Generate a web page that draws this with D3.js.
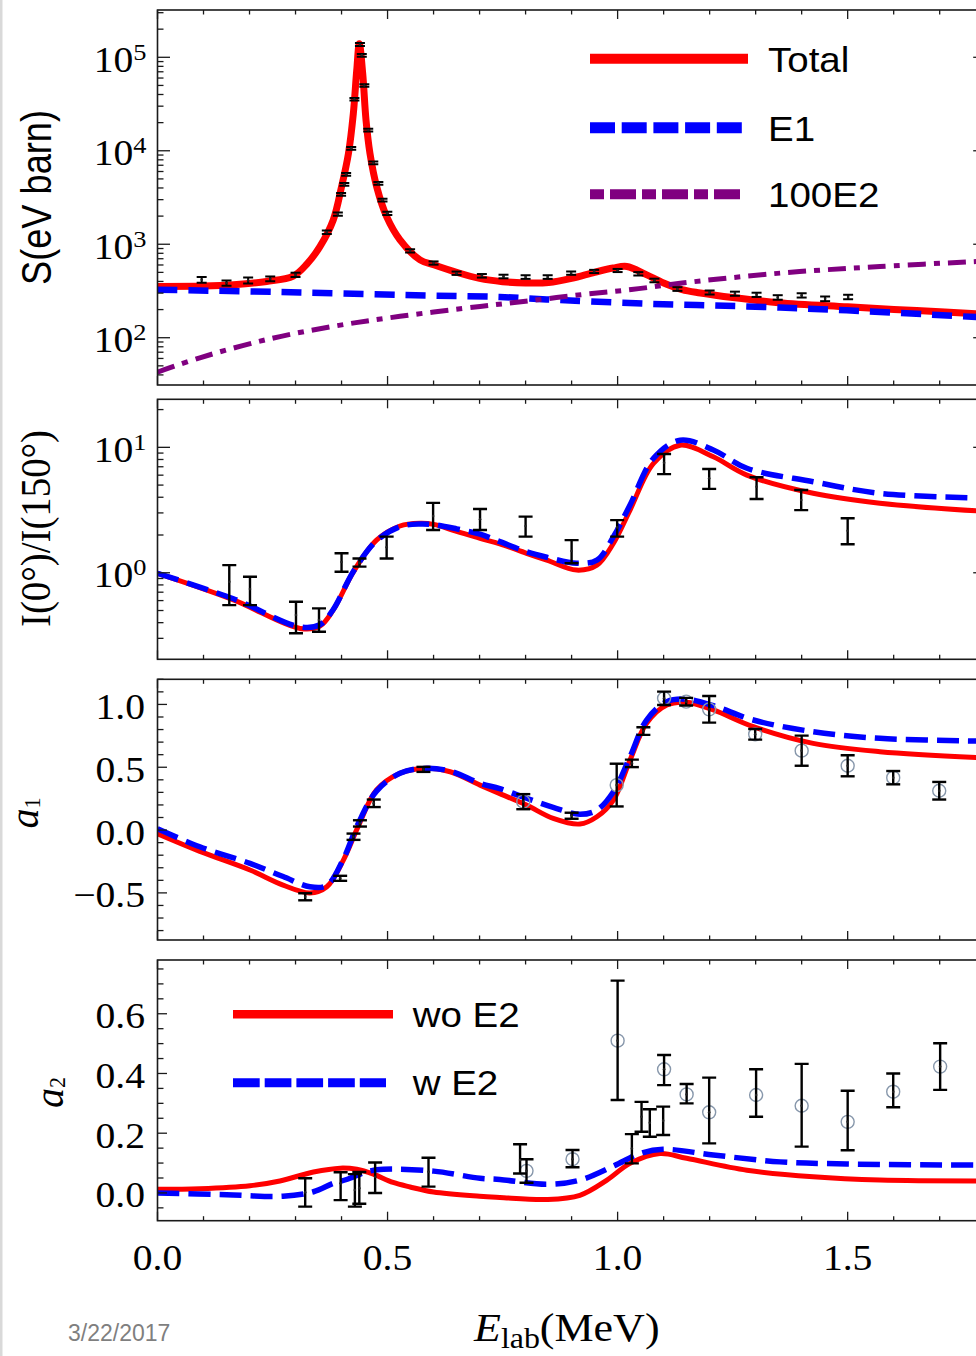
<!DOCTYPE html>
<html>
<head>
<meta charset="utf-8">
<script src="https://cdn.jsdelivr.net/npm/d3@7/dist/d3.min.js"></script>
<style>
  html, body { margin: 0; padding: 0; background: #fff; }
  svg { display: block; }
</style>
</head>
<body>
<svg id="chart" width="976" height="1356"></svg>
<script>
// ---------------- S-factor panel (log scale) ----------------
const sCurveE  = [0, 0.10, 0.165, 0.237, 0.295, 0.325, 0.353, 0.382, 0.400, 0.415, 0.4256, 0.433, 0.4386, 0.446, 0.4532, 0.4618, 0.4764, 0.498, 0.527, 0.5705, 0.60, 0.65, 0.70, 0.75, 0.80, 0.85, 0.90, 0.95, 0.99, 1.02, 1.06, 1.10, 1.14, 1.18, 1.25, 1.35, 1.50, 1.65, 1.80];
const sTotal   = [354, 357, 369, 400, 457, 617, 944, 1820, 4121, 9354, 25000, 72440, 139600, 66830, 21230, 9354, 4121, 1972, 1114, 681, 603, 501, 431, 398, 385, 389, 431, 501, 556, 578, 479, 385, 327, 301, 269, 237, 214, 195, 178];
const e1CurveE = [0, 0.31, 0.60, 0.744, 0.846, 1.063, 1.281, 1.498, 1.80];
const sE1      = [326, 305.5, 281.8, 272.9, 257, 231.2, 216.3, 196.3, 164.1];
const e2CurveE = [0, 0.092, 0.237, 0.382, 0.527, 0.701, 0.80, 0.92, 1.03, 1.14, 1.353, 1.57, 1.80];
const s100E2   = [42.8, 61.0, 95.5, 132.4, 169.4, 216, 245.5, 288.4, 327.3, 384.6, 490.9, 578.1, 660.7];
const sDataE   = [0.096, 0.150, 0.197, 0.245, 0.300, 0.368, 0.392, 0.399, 0.406, 0.410, 0.421, 0.428, 0.440, 0.444, 0.4495, 0.458, 0.469, 0.480, 0.489, 0.4995, 0.549, 0.600, 0.650, 0.705, 0.752, 0.800, 0.848, 0.899, 0.949, 1.000, 1.045, 1.080, 1.130, 1.200, 1.255, 1.302, 1.348, 1.400, 1.451, 1.501];
const sData    = [417, 385, 410, 427, 471, 1345, 2100, 3420, 4370, 5590, 10600, 35600, 137000, 105000, 50000, 16600, 7430, 4480, 2970, 2140, 850, 630, 490, 460, 452, 446, 446, 491, 512, 524, 483, 410, 332, 305, 296, 288, 270, 284, 261, 273];
const sErr     = [30, 25, 30, 25, 25, 60, 80, 120, 150, 180, 350, 1000, 5000, 3500, 1600, 550, 250, 150, 100, 80, 35, 25, 20, 20, 20, 20, 20, 20, 20, 20, 20, 18, 15, 15, 15, 15, 15, 15, 15, 15];
const sLegend  = ["Total", "E1", "100E2"];
const sDecades = [2, 3, 4, 5];

// ---------------- I(0°)/I(150°) panel (log scale) ----------------
const ratioE     = [0, 0.165, 0.31, 0.353, 0.382, 0.426, 0.476, 0.527, 0.57, 0.60, 0.65, 0.701, 0.744, 0.802, 0.846, 0.911, 0.955, 0.991, 1.027, 1.078, 1.136, 1.208, 1.281, 1.425, 1.57, 1.80];
const ratioWo    = [0.989, 0.607, 0.36, 0.376, 0.505, 1.02, 1.82, 2.36, 2.48, 2.43, 2.14, 1.88, 1.70, 1.43, 1.26, 1.05, 1.15, 1.72, 3.16, 7.46, 10.4, 8.41, 6.01, 4.30, 3.58, 3.08];
const ratioW     = [0.99, 0.62, 0.37, 0.385, 0.51, 1.03, 1.80, 2.33, 2.45, 2.42, 2.24, 2.03, 1.77, 1.47, 1.33, 1.19, 1.26, 1.94, 3.47, 8.18, 11.4, 9.53, 6.81, 5.32, 4.30, 3.93];
const ratioDataE = [0.156, 0.201, 0.301, 0.351, 0.400, 0.439, 0.498, 0.599, 0.701, 0.800, 0.900, 0.999, 1.101, 1.199, 1.302, 1.399, 1.500];
const ratioData  = [0.847, 0.741, 0.46, 0.42, 1.22, 1.20, 1.60, 2.83, 2.67, 2.36, 1.49, 2.30, 7.53, 5.66, 4.85, 3.80, 2.16];
const ratioLo    = [0.552, 0.552, 0.329, 0.339, 1.02, 1.12, 1.30, 2.19, 2.19, 1.94, 1.19, 1.94, 6.12, 4.66, 3.87, 3.16, 1.69];
const ratioHi    = [1.15, 0.929, 0.587, 0.52, 1.43, 1.30, 1.94, 3.61, 3.22, 2.80, 1.82, 2.63, 8.85, 6.71, 5.77, 4.57, 2.72];
const ratioDecades = [0, 1];

// ---------------- a1 panel ----------------
const a1E      = [0, 0.092, 0.201, 0.273, 0.331, 0.368, 0.404, 0.436, 0.476, 0.527, 0.578, 0.636, 0.701, 0.744, 0.802, 0.860, 0.918, 0.955, 0.991, 1.027, 1.063, 1.107, 1.150, 1.208, 1.295, 1.425, 1.570, 1.80];
const a1Wo     = [-0.03, -0.17, -0.318, -0.438, -0.50, -0.451, -0.239, 0.027, 0.319, 0.452, 0.491, 0.464, 0.358, 0.29, 0.199, 0.093, 0.048, 0.106, 0.239, 0.557, 0.85, 0.995, 1.017, 0.956, 0.823, 0.69, 0.624, 0.575];
const a1W      = [0.01, -0.133, -0.265, -0.37, -0.451, -0.44, -0.23, 0.05, 0.31, 0.452, 0.491, 0.47, 0.372, 0.33, 0.253, 0.18, 0.125, 0.159, 0.305, 0.584, 0.876, 1.022, 1.041, 0.99, 0.876, 0.783, 0.73, 0.708];
const a1DataE  = [0.321, 0.397, 0.426, 0.440, 0.470, 0.578, 0.795, 0.900, 0.998, 1.031, 1.056, 1.101, 1.149, 1.199, 1.299, 1.400, 1.500, 1.599, 1.699];
const a1Data   = [-0.531, -0.384, -0.053, 0.053, 0.213, 0.483, 0.226, 0.114, 0.358, 0.531, 0.788, 1.049, 1.022, 0.961, 0.762, 0.632, 0.512, 0.417, 0.313];
const a1Err    = [0.028, 0.02, 0.025, 0.025, 0.03, 0.02, 0.06, 0.024, 0.17, 0.03, 0.03, 0.053, 0.03, 0.106, 0.042, 0.12, 0.084, 0.053, 0.07];
const a1Ring   = [0, 0, 0, 0, 0, 0, 1, 0, 1, 0, 0, 1, 1, 1, 1, 1, 1, 1, 1];
const a1Ticks  = [-0.5, 0, 0.5, 1.0];
const a1TickLabels = ["\u22120.5", "0.0", "0.5", "1.0"];

// ---------------- a2 panel ----------------
const a2WoE    = [0, 0.092, 0.201, 0.266, 0.339, 0.397, 0.433, 0.469, 0.512, 0.549, 0.60, 0.70, 0.744, 0.846, 0.918, 0.976, 1.027, 1.092, 1.150, 1.281, 1.425, 1.570, 1.80];
const a2Wo     = [0.012, 0.014, 0.024, 0.04, 0.07, 0.083, 0.079, 0.063, 0.035, 0.02, 0.003, -0.011, -0.015, -0.022, -0.008, 0.042, 0.099, 0.132, 0.116, 0.076, 0.054, 0.043, 0.04];
const a2WE     = [0, 0.15, 0.273, 0.339, 0.382, 0.411, 0.455, 0.491, 0.60, 0.701, 0.744, 0.846, 0.918, 0.991, 1.049, 1.099, 1.208, 1.353, 1.498, 1.80];
const a2W      = [0.0, -0.006, -0.011, 0.004, 0.032, 0.045, 0.071, 0.079, 0.073, 0.049, 0.045, 0.029, 0.043, 0.09, 0.132, 0.146, 0.127, 0.104, 0.097, 0.093];
const a2DataE  = [0.321, 0.398, 0.429, 0.4386, 0.473, 0.589, 0.788, 0.802, 0.902, 1.000, 1.031, 1.052, 1.070, 1.099, 1.101, 1.150, 1.199, 1.301, 1.400, 1.500, 1.599, 1.701];
const a2Data   = [0.002, 0.032, 0.01, 0.016, 0.054, 0.071, 0.11, 0.074, 0.113, 0.51, 0.149, 0.255, 0.235, 0.242, 0.414, 0.33, 0.27, 0.328, 0.292, 0.238, 0.339, 0.423];
const a2Lo     = [-0.046, -0.024, -0.046, -0.036, 0.0, 0.021, 0.065, 0.034, 0.086, 0.311, 0.099, 0.205, 0.188, 0.194, 0.361, 0.30, 0.166, 0.255, 0.155, 0.143, 0.287, 0.345];
const a2Hi     = [0.049, 0.069, 0.063, 0.07, 0.102, 0.118, 0.163, 0.113, 0.144, 0.711, 0.197, 0.305, 0.28, 0.289, 0.462, 0.365, 0.386, 0.414, 0.432, 0.342, 0.40, 0.501];
const a2Ring   = [0, 0, 0, 0, 0, 0, 0, 1, 1, 1, 0, 0, 0, 0, 1, 1, 1, 1, 1, 1, 1, 1];
const a2Ticks  = [0, 0.2, 0.4, 0.6];
const a2TickLabels = ["0.0", "0.2", "0.4", "0.6"];
const a2Legend = ["wo E2", "w E2"];

// ---------------- shared energy axis ----------------
const xTicks = [0, 0.5, 1.0, 1.5];
const xTickLabels = ["0.0", "0.5", "1.0", "1.5"];
const dateText = "3/22/2017";

// =============================================================
const W = 976, H = 1356;
const SERIF = "'Liberation Serif','Times New Roman',serif";
const SANS  = "'Liberation Sans',Arial,sans-serif";
const SX = 1.1;             // horizontal text stretch
const RED = "#ff0000", BLUE = "#0000ff", PURPLE = "#800080";

const svg = d3.select("#chart");
svg.append("rect").attr("width", W).attr("height", H).attr("fill", "#fff");
svg.append("rect").attr("x", 0).attr("y", 0).attr("width", 2.5).attr("height", H).attr("fill", "#d9d9d9");

const x = d3.scaleLinear().domain([0, 1.8]).range([157.5, 985.7]);
const X0 = x(0), X1 = x(1.8);

const yS  = d3.scaleLog().domain([31.2, 320600]).range([385, 10]);
const yR  = d3.scaleLog().domain([0.2042, 24.15]).range([659.3, 399.3]);
const yA1 = d3.scaleLinear().domain([-0.875, 1.2]).range([940, 679.3]);
const yA2 = d3.scaleLinear().domain([-0.093, 0.78]).range([1220.7, 960]);

function addText(parent, px, py, o) {
  const tr = `translate(${px},${py}) scale(${o.sx ?? SX},1)` + (o.rotate ? ` rotate(${o.rotate})` : "");
  const t = parent.append("g").attr("transform", tr).append("text")
    .attr("font-family", o.family).attr("font-size", o.size)
    .attr("text-anchor", o.anchor || "start").attr("fill", o.fill || "#000");
  if (o.italic) t.attr("font-style", "italic");
  if (o.length) t.attr("textLength", o.length).attr("lengthAdjust", "spacingAndGlyphs");
  if (o.text != null) t.text(o.text);
  return t;
}

function makePanel(yScale, id, yTicks) {
  const [bottom, top] = yScale.range();
  const g = svg.append("g");
  svg.append("clipPath").attr("id", id).append("rect")
    .attr("x", X0).attr("y", top).attr("width", X1 - X0).attr("height", bottom - top);
  const plot = g.append("g").attr("clip-path", `url(#${id})`);
  const axes = g.append("g").attr("stroke", "#1a1a1a").attr("stroke-width", 1.3);
  // energy ticks on top and bottom edges
  d3.range(0, 19).forEach(i => {
    const v = i / 10, px = x(v), len = (i % 5 === 0) ? 9 : 4.5;
    axes.append("line").attr("x1", px).attr("x2", px).attr("y1", bottom).attr("y2", bottom - len);
    axes.append("line").attr("x1", px).attr("x2", px).attr("y1", top).attr("y2", top + len);
  });
  // value ticks on left and right edges
  yTicks.forEach(([v, len]) => {
    const py = yScale(v);
    axes.append("line").attr("x1", X0).attr("x2", X0 + len).attr("y1", py).attr("y2", py);
    axes.append("line").attr("x1", X1).attr("x2", X1 - len).attr("y1", py).attr("y2", py);
  });
  g.append("rect").attr("x", X0).attr("y", top).attr("width", X1 - X0).attr("height", bottom - top)
    .attr("fill", "none").attr("stroke", "#1a1a1a").attr("stroke-width", 1.6);
  return { g, plot };
}

function logTicks(scale, decades) {
  const [lo, hi] = scale.domain();
  const out = [];
  for (let d = decades[0] - 1; d <= decades[decades.length - 1]; d++) {
    for (let m = 1; m <= 9; m++) {
      const v = m * Math.pow(10, d);
      if (v >= lo && v <= hi) out.push([v, m === 1 ? 12.5 : 6]);
    }
  }
  return out;
}
function linTicks(scale, step, majorStep) {
  const [lo, hi] = scale.domain();
  const out = [];
  for (let k = Math.ceil(lo / step - 1e-9); k * step <= hi + 1e-9; k++) {
    const v = +(k * step).toFixed(4);
    const major = Math.abs(v / majorStep - Math.round(v / majorStep)) < 1e-6;
    out.push([v, major ? 9.5 : 6]);
  }
  return out;
}

function logLabels(g, scale, decades) {
  decades.forEach(d => {
    const py = scale(Math.pow(10, d));
    const t = addText(g, 146.5, py + 14.5, { family: SERIF, size: 36, anchor: "end" });
    t.append("tspan").text("10");
    t.append("tspan").attr("font-size", 24).attr("dy", -11.8).text(String(d));
  });
}
function linLabels(g, scale, vals, labels) {
  vals.forEach((v, i) => {
    addText(g, 145, scale(v) + 14.5, { family: SERIF, size: 36, anchor: "end", text: labels[i] });
  });
}

const smooth = d3.curveCatmullRom.alpha(0.5);
function drawCurve(plot, xs, ys, yScale, stroke, width, dash) {
  const pts = xs.map((e, i) => [x(e), yScale(ys[i])]);
  const p = plot.append("path").attr("d", d3.line().curve(smooth)(pts))
    .attr("fill", "none").attr("stroke", stroke).attr("stroke-width", width)
    .attr("stroke-linejoin", "round");
  if (dash) p.attr("stroke-dasharray", dash).attr("stroke-linecap", "butt");
  else p.attr("stroke-linecap", "round");
}

function drawErrors(plot, xs, vals, lo, hi, yScale, cap, sw, rings) {
  if (rings) {
    xs.forEach((e, i) => {
      if (!rings[i]) return;
      plot.append("circle").attr("cx", x(e)).attr("cy", yScale(vals[i])).attr("r", 6.5)
        .attr("fill", "none").attr("stroke", "#8797ab").attr("stroke-width", 1.4);
    });
  }
  const eb = plot.append("g").attr("stroke", "#000").attr("stroke-width", sw);
  xs.forEach((e, i) => {
    const px = x(e), y1 = yScale(lo[i]), y2 = yScale(hi[i]);
    eb.append("line").attr("x1", px).attr("x2", px).attr("y1", y1).attr("y2", y2);
    eb.append("line").attr("x1", px - cap / 2).attr("x2", px + cap / 2).attr("y1", y1).attr("y2", y1);
    eb.append("line").attr("x1", px - cap / 2).attr("x2", px + cap / 2).attr("y1", y2).attr("y2", y2);
  });
  xs.forEach((e, i) => {
    plot.append("circle").attr("cx", x(e)).attr("cy", yScale(vals[i])).attr("r", 1.3).attr("fill", "#222");
  });
}

// ---------------- panel 1: S factor ----------------
{
  const { g, plot } = makePanel(yS, "clipS", logTicks(yS, sDecades));
  drawCurve(plot, sCurveE, sTotal, yS, RED, 7);
  drawCurve(plot, e1CurveE, sE1, yS, BLUE, 6.5, "20 11");
  drawCurve(plot, e2CurveE, s100E2, yS, PURPLE, 5, "18 8 6 8");
  const sLo = sData.map((v, i) => v - sErr[i]);
  const sHi = sData.map((v, i) => v + sErr[i]);
  drawErrors(plot, sDataE, sData, sLo, sHi, yS, 10, 2);
  logLabels(g, yS, sDecades);

  // legend
  const lg = g.append("g");
  lg.append("line").attr("x1", 590).attr("x2", 748).attr("y1", 58.7).attr("y2", 58.7)
    .attr("stroke", RED).attr("stroke-width", 10);
  lg.append("line").attr("x1", 590).attr("x2", 742).attr("y1", 127.7).attr("y2", 127.7)
    .attr("stroke", BLUE).attr("stroke-width", 11).attr("stroke-dasharray", "25 6.7");
  lg.append("line").attr("x1", 590).attr("x2", 740).attr("y1", 194.3).attr("y2", 194.3)
    .attr("stroke", PURPLE).attr("stroke-width", 10).attr("stroke-dasharray", "14 6 26 6");
  [58.7, 127.7, 194.3].forEach((ly, i) => {
    addText(lg, 768, ly + 12.8, { family: SANS, size: 35, text: sLegend[i] });
  });

  addText(g, 51, 197.5, { family: SANS, size: 38, anchor: "middle", rotate: -90, length: 175, sx: 1.12, text: "S(eV barn)" });
}

// ---------------- panel 2: I(0°)/I(150°) ----------------
{
  const { g, plot } = makePanel(yR, "clipR", logTicks(yR, ratioDecades));
  drawCurve(plot, ratioE, ratioWo, yR, RED, 5);
  drawCurve(plot, ratioE, ratioW, yR, BLUE, 5.5, "22 9");
  drawErrors(plot, ratioDataE, ratioData, ratioLo, ratioHi, yR, 14, 2.4);
  logLabels(g, yR, ratioDecades);
  addText(g, 50, 528.5, { family: SERIF, size: 39, anchor: "middle", rotate: -90, length: 197, text: "I(0\u00B0)/I(150\u00B0)" });
}

// ---------------- panel 3: a1 ----------------
{
  const { g, plot } = makePanel(yA1, "clipA1", linTicks(yA1, 0.1, 0.5));
  drawCurve(plot, a1E, a1Wo, yA1, RED, 5);
  drawCurve(plot, a1E, a1W, yA1, BLUE, 5.5, "22 9");
  const lo = a1Data.map((v, i) => v - a1Err[i]);
  const hi = a1Data.map((v, i) => v + a1Err[i]);
  drawErrors(plot, a1DataE, a1Data, lo, hi, yA1, 14, 2.4, a1Ring);
  linLabels(g, yA1, a1Ticks, a1TickLabels);
  const t = addText(g, 38, 813, { family: SERIF, size: 40, anchor: "middle", rotate: -90, sx: 1.06 });
  t.append("tspan").attr("font-style", "italic").text("a");
  t.append("tspan").attr("font-size", 22).attr("dy", 2).text("1");
}

// ---------------- panel 4: a2 ----------------
{
  const { g, plot } = makePanel(yA2, "clipA2", linTicks(yA2, 0.05, 0.2));
  drawCurve(plot, a2WoE, a2Wo, yA2, RED, 5);
  drawCurve(plot, a2WE, a2W, yA2, BLUE, 5.5, "22 9");
  drawErrors(plot, a2DataE, a2Data, a2Lo, a2Hi, yA2, 14, 2.4, a2Ring);
  linLabels(g, yA2, a2Ticks, a2TickLabels);
  const t = addText(g, 63, 1092.5, { family: SERIF, size: 40, anchor: "middle", rotate: -90, sx: 1.06 });
  t.append("tspan").attr("font-style", "italic").text("a");
  t.append("tspan").attr("font-size", 22).attr("dy", 2).text("2");

  // legend
  const lg = g.append("g");
  lg.append("line").attr("x1", 233).attr("x2", 393).attr("y1", 1014.3).attr("y2", 1014.3)
    .attr("stroke", RED).attr("stroke-width", 8.5);
  lg.append("line").attr("x1", 233).attr("x2", 386).attr("y1", 1082.7).attr("y2", 1082.7)
    .attr("stroke", BLUE).attr("stroke-width", 9).attr("stroke-dasharray", "26.7 5");
  addText(lg, 412.7, 1027.3, { family: SANS, size: 35, text: a2Legend[0] });
  addText(lg, 412.7, 1095.3, { family: SANS, size: 35, text: a2Legend[1] });

  // energy labels
  xTicks.forEach((v, i) => {
    addText(g, x(v), 1270, { family: SERIF, size: 36, anchor: "middle", text: xTickLabels[i] });
  });
  const xt = addText(g, 474, 1341, { family: SERIF, size: 40 });
  xt.append("tspan").attr("font-style", "italic").text("E");
  xt.append("tspan").attr("font-size", 29).attr("dy", 6.5).text("lab");
  xt.append("tspan").attr("dy", -6.5).text("(MeV)");
}

// slide date stamp
addText(svg, 68, 1340.7, { family: SANS, size: 23, fill: "#7f7f7f", sx: 1, text: dateText });
</script>
</body>
</html>
